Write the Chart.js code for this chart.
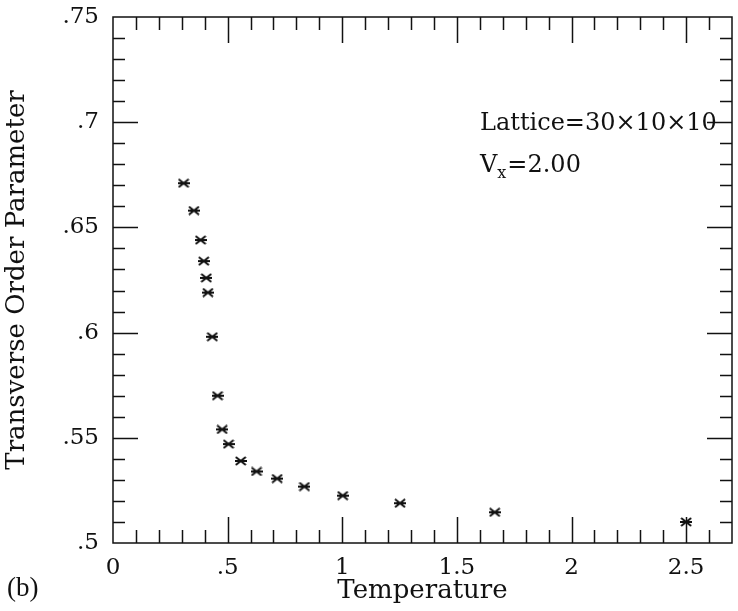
<!DOCTYPE html>
<html>
<head>
<meta charset="utf-8">
<title>Transverse Order Parameter vs Temperature</title>
<script src="https://cdn.jsdelivr.net/npm/chart.js@4.4.1/dist/chart.umd.min.js"></script>
<style>
  html, body { margin: 0; padding: 0; background: #fff; }
  #wrap { position: relative; width: 738px; height: 611px; }
</style>
</head>
<body>
<div id="wrap"><canvas id="chart" width="738" height="611"></canvas></div>
<script>
// ---- Data ----
const temperature = [0.308, 0.353, 0.382, 0.396, 0.407, 0.414, 0.433, 0.456, 0.476, 0.504,
                     0.557, 0.626, 0.716, 0.835, 1.002, 1.252, 1.665, 2.5];
const orderParam  = [0.671, 0.658, 0.644, 0.634, 0.626, 0.619, 0.598, 0.570, 0.554, 0.547,
                     0.539, 0.534, 0.5306, 0.5268, 0.5225, 0.5189, 0.5146, 0.510];

const xTicks      = [0, 0.5, 1, 1.5, 2, 2.5];
const xTickLabels = ['0', '.5', '1', '1.5', '2', '2.5'];
const yTicks      = [0.5, 0.55, 0.6, 0.65, 0.7, 0.75];
const yTickLabels = ['.5', '.55', '.6', '.65', '.7', '.75'];

(function () {
  'use strict';

  const INK = '#111';
  Chart.defaults.font.family = '"DejaVu Serif", serif';
  Chart.defaults.color = INK;

  // asterisk-like marker: X with a horizontal bar
  function makeMarker() {
    const c = document.createElement('canvas');
    c.width = 12; c.height = 10;
    const g = c.getContext('2d');
    g.strokeStyle = INK;
    g.lineWidth = 2;
    g.beginPath();
    g.moveTo(1, 1); g.lineTo(11, 9);
    g.moveTo(11, 1); g.lineTo(1, 9);
    g.moveTo(0, 5); g.lineTo(12, 5);
    g.stroke();
    return c;
  }

  // ---- Frame with inward ticks on all four sides ----
  const framePlugin = {
    id: 'frame',
    afterDraw(chart) {
      const { ctx, chartArea: a, scales: { x, y } } = chart;
      ctx.save();
      ctx.strokeStyle = INK;
      ctx.lineWidth = 1.5;
      ctx.strokeRect(a.left, a.top, a.right - a.left, a.bottom - a.top);
      ctx.beginPath();
      for (let i = 1; i < 27; i++) {
        const px = Math.round(x.getPixelForValue(i / 10)) + 0.5;
        const len = i % 5 === 0 ? 26 : 13;
        ctx.moveTo(px, a.bottom); ctx.lineTo(px, a.bottom - len);
        ctx.moveTo(px, a.top); ctx.lineTo(px, a.top + len);
      }
      for (let i = 1; i < 25; i++) {
        const py = Math.round(y.getPixelForValue(0.5 + i / 100)) + 0.5;
        const len = i % 5 === 0 ? 25 : 12;
        ctx.moveTo(a.left, py); ctx.lineTo(a.left + len, py);
        ctx.moveTo(a.right, py); ctx.lineTo(a.right - len, py);
      }
      ctx.stroke();
      ctx.restore();
    }
  };

  // ---- Annotation text and panel label ----
  const notesPlugin = {
    id: 'notes',
    afterDraw(chart) {
      const { ctx } = chart;
      ctx.save();
      ctx.fillStyle = INK;
      ctx.textBaseline = 'alphabetic';
      ctx.textAlign = 'left';
      ctx.font = '24px "DejaVu Serif"';
      ctx.fillText('Lattice=30\u00d710\u00d710', 480, 130);
      ctx.fillText('V', 480, 172);
      const vw = ctx.measureText('V').width;
      ctx.font = '16px "DejaVu Serif"';
      ctx.fillText('x', 480 + vw, 178);
      const xw = ctx.measureText('x').width;
      ctx.font = '24px "DejaVu Serif"';
      ctx.fillText('=2.00', 480 + vw + xw + 1, 172);
      ctx.font = '27px "Liberation Serif"';
      ctx.fillText('(b)', 7, 596);
      ctx.restore();
    }
  };

  new Chart(document.getElementById('chart'), {
    type: 'scatter',
    data: {
      datasets: [{
        data: temperature.map((t, i) => ({ x: t, y: orderParam[i] })),
        pointStyle: makeMarker(),
        pointRadius: 5,
        showLine: false,
        clip: false
      }]
    },
    options: {
      responsive: false,
      animation: false,
      layout: { padding: { top: 17, right: 0, left: 0, bottom: 0 } },
      plugins: { legend: { display: false }, tooltip: { enabled: false } },
      scales: {
        x: {
          type: 'linear', min: 0, max: 2.7,
          afterBuildTicks: s => { s.ticks = xTicks.map(v => ({ value: v })); },
          afterFit: s => { s.height = 68; s.paddingLeft = 0; s.paddingRight = 0; },
          grid: { display: false, drawTicks: false },
          border: { display: false },
          ticks: {
            padding: 11, maxRotation: 0, autoSkip: false,
            font: { size: 23 },
            callback: v => xTickLabels[xTicks.indexOf(v)]
          },
          title: {
            display: true, text: 'Temperature',
            font: { size: 26 }, padding: { top: 0, bottom: 4 }
          }
        },
        y: {
          type: 'linear', min: 0.5, max: 0.75,
          afterBuildTicks: s => { s.ticks = yTicks.map(v => ({ value: v })); },
          afterFit: s => { s.width = 113; s.paddingTop = 0; s.paddingBottom = 0; },
          grid: { display: false, drawTicks: false },
          border: { display: false },
          ticks: {
            padding: 14, autoSkip: false,
            font: { size: 23 },
            callback: v => yTickLabels[yTicks.indexOf(v)]
          },
          title: {
            display: true, text: 'Transverse Order Parameter',
            font: { size: 26 }, padding: { top: 2, bottom: 0 }
          }
        }
      }
    },
    plugins: [framePlugin, notesPlugin]
  });
})();
</script>
</body>
</html>
